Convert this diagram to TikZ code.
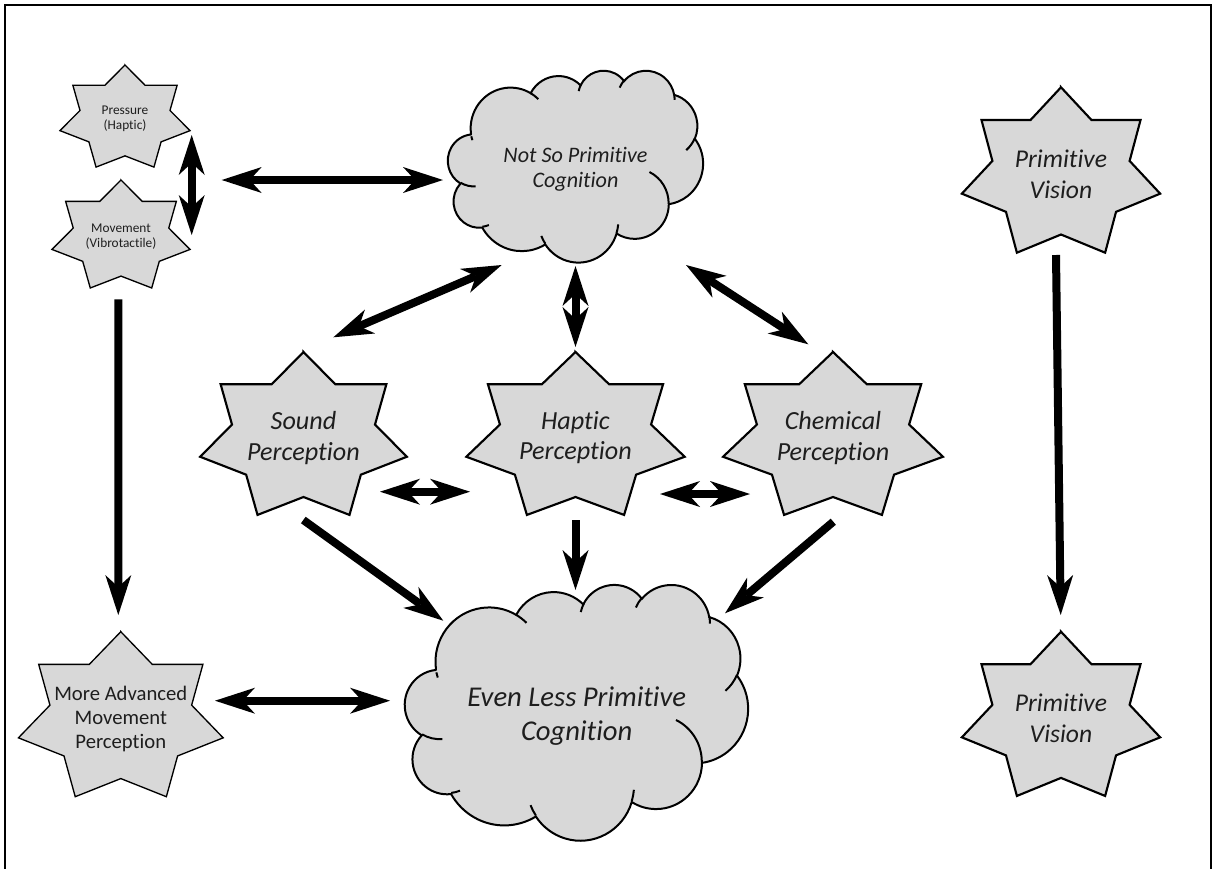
\documentclass[tikz,border=0pt]{standalone}
\usepackage{fontspec}
\setmainfont{Carlito}[Ligatures=CommonOff]
\usetikzlibrary{arrows.meta,calc}
\definecolor{shapefill}{RGB}{216,216,216}
\definecolor{inkcol}{RGB}{30,30,30}

\tikzset{
  % elliptical arc given by radii, start angle and sweep measured as true (visual) angles
  carc/.style n args={4}{x radius=#1, y radius=#2,
    start angle={atan2(#1*sin(#3),#2*cos(#3))},
    delta angle={mod(atan2(#1*sin(#3+#4),#2*cos(#3+#4))-atan2(#1*sin(#3),#2*cos(#3))+720,360)}},
  starbig/.style={draw=black, line width=1.6pt, fill=shapefill, line join=miter},
  starsmall/.style={draw=black, line width=1pt, fill=shapefill, line join=miter},
  cloudline/.style={draw=black, line width=1.5pt, fill=shapefill},
  hintline/.style={draw=black, line width=1.5pt},
  txtbase/.style={align=center, inner sep=0pt, text=inkcol},
  bigtxt/.style={txtbase, font=\fontsize{19.6}{23}\selectfont\itshape},
  pvtxt/.style={txtbase, font=\fontsize{19.2}{23.5}\selectfont\itshape},
  smalltxt/.style={txtbase, font=\fontsize{10}{11.3}\selectfont},
  advtxt/.style={txtbase, font=\fontsize{15.5}{18}\selectfont},
  notsotxt/.style={txtbase, font=\fontsize{16.6}{18.8}\selectfont\itshape},
  eventxt/.style={txtbase, font=\fontsize{21.5}{25.5}\selectfont\itshape},
  tip/.tip={Stealth[length=30pt,width=19.5pt,inset=9pt,line width=0pt]},
  arr/.style={line width=6pt, -tip},
  dblarr/.style={line width=6pt, tip-tip},
}

% seven-pointed star: style, centre x, centre y, outer radius x, outer radius y
\newcommand\sevenstar[5]{%
  \draw[#1, shift={(#2,#3)}] (-90:#4 and #5)
    \foreach \k in {0,...,6}{
      -- ({\k*51.42857-64.28571}:{0.692*#4} and {0.692*#5})
      -- ({\k*51.42857-38.57143}:#4 and #5)} -- cycle;}

% cloud outline on a 43.2 x 43.2 grid: left, top, x scale, y scale
\newcommand\cloudshape[4]{%
  \begin{scope}[shift={(#1,#2)}, xscale=#3, yscale=#4]
    \path[cloudline] (3.900,14.370)
      arc[carc={6.753}{9.190}{-190.48748}{123.78053}]
      arc[carc={5.333}{7.267}{-144.10238}{89.94523}]
      arc[carc={4.365}{5.945}{-145.80792}{99.72302}]
      arc[carc={4.857}{6.595}{-130.98607}{117.24173}]
      arc[carc={5.333}{7.273}{-78.70888}{109.02692}]
      arc[carc={6.775}{9.220}{-46.26725}{130.26900}]
      arc[carc={5.785}{7.867}{0.62502}{114.03333}]
      arc[carc={6.752}{9.215}{22.45160}{115.17255}]
      arc[carc={7.720}{10.543}{66.24263}{75.71102}]
      arc[carc={4.360}{5.918}{-274.94208}{146.73557}]
      arc[carc={4.345}{5.945}{-246.82850}{152.51885}]
      -- cycle;
    \path[hintline]
      (4.693,26.177) arc[carc={4.345}{5.945}{86.74200}{26.42950}]
      (6.928,34.899) arc[carc={4.360}{5.918}{73.61047}{11.44747}]
      (16.478,39.090) arc[carc={6.752}{9.215}{137.62415}{14.08110}]
      (28.827,34.751) arc[carc={6.752}{9.215}{6.45327}{15.99835}]
      (34.129,22.954) arc[carc={5.785}{7.867}{-70.29235}{70.91737}]
      (41.798,15.354) arc[carc={5.333}{7.273}{30.31803}{27.75150}]
      (38.324,5.426) arc[carc={4.857}{6.595}{-13.74433}{14.85890}]
      (29.078,3.952) arc[carc={4.857}{6.595}{-149.18145}{18.19537}]
      (22.141,4.720) arc[carc={4.365}{5.945}{-163.49427}{17.68635}]
      (14.000,5.192) arc[carc={6.753}{9.190}{-66.70695}{12.31935}]
      (4.127,15.789) arc[carc={6.753}{9.190}{155.64180}{7.29815}];
  \end{scope}}

\begin{document}
\begin{tikzpicture}[x=0.75pt, y=-0.75pt]
\useasboundingbox (0,0) rectangle (1213,868);
\fill[white] (0,0) rectangle (1213,868);
\draw[line width=1.6pt] (5,880) -- (5,5) -- (1211,5) -- (1211,880);

% clouds
\cloudshape{448}{70.1}{5.903}{4.44}
\cloudshape{405}{584.1}{7.940}{5.919}

% stars
\sevenstar{starsmall}{125}{118.7}{66.7}{53.7}
\sevenstar{starsmall}{121}{236.8}{70.8}{56.8}
\sevenstar{starsmall}{120.8}{718.5}{105}{86.8}
\sevenstar{starbig}{303.5}{437.7}{106}{85.7}
\sevenstar{starbig}{575.5}{437.7}{112}{85.7}
\sevenstar{starbig}{833}{437.7}{112.8}{85.7}
\sevenstar{starbig}{1061}{174.3}{101.7}{87}
\sevenstar{starbig}{1061}{718.1}{101.7}{86.4}

% labels
\node[smalltxt] (pres) at (125,118.7) {Pressure\\(Haptic)};
\node[smalltxt] (move) at (121,236.8) {Movement\\(Vibrotactile)};
\node[advtxt] (adv) at (120.8,718.5) {More Advanced\\Movement\\Perception};
\node[bigtxt] (sound) at (303.5,437.7) {Sound\\Perception};
\node[bigtxt] (haptic) at (575.5,437.7) {Haptic\\Perception};
\node[bigtxt] (chem) at (833,437.7) {Chemical\\Perception};
\node[pvtxt] (pv1) at (1061,174.3) {Primitive\\Vision};
\node[pvtxt] (pv2) at (1061,718.1) {Primitive\\Vision};
\node[notsotxt] (notso) at (575.5,169) {Not So Primitive\\Cognition};
\node[eventxt] (even) at (576.7,716) {Even Less Primitive\\Cognition};

% connectors
\draw[dblarr] ($(pres)+(66.7,16.3)$) -- ($(move)+(70.7,-1.8)$);
\draw[dblarr] ($(move)+(100.7,-56.8)$) -- ($(notso)+(-132.5,11)$);
\draw[dblarr] ($(sound)+(29.8,-100.4)$) -- ($(notso)+(-73.8,96)$);
\draw[dblarr] ($(notso)+(0,97)$) -- ($(haptic)+(0,-90.7)$);
\draw[dblarr] ($(notso)+(110.5,96)$) -- ($(chem)+(-24.7,-93.4)$);
\draw[dblarr] ($(sound)+(76.5,54)$) -- ($(haptic)+(-105.5,54)$);
\draw[dblarr] ($(haptic)+(84.5,56.3)$) -- ($(chem)+(-83,56.3)$);
\draw[arr] ($(sound)+(-0.2,82.3)$) -- ($(even)+(-133.4,-95.3)$);
\draw[arr] ($(haptic)+(0,82.3)$) -- ($(even)+(-1.2,-126)$);
\draw[arr] ($(chem)+(0.3,84)$) -- ($(even)+(148.3,-102.7)$);
\draw[arr] ($(move)+(-2.7,62.5)$) -- ($(adv)+(-2.5,-103.5)$);
\draw[dblarr] ($(adv)+(94.2,-17.8)$) -- ($(even)+(-186.7,-15.3)$);
\draw[arr] ($(pv1)+(-5,80.7)$) -- ($(pv2)+(-0.3,-103.1)$);
\end{tikzpicture}
\end{document}
